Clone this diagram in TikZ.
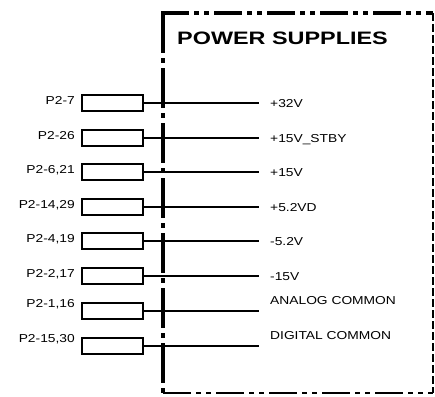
\documentclass[tikz,border=0pt]{standalone}
\usepackage{fontspec}
\setmainfont{Liberation Sans}
\newfontfamily\psfont[FakeStretch=1.2]{Liberation Sans}
\newfontfamily\psbigfont[FakeStretch=1.3]{Liberation Sans}
\usetikzlibrary{positioning}
\tikzset{
  pinbox/.style={draw, line width=2.6pt, minimum width=61pt, minimum height=16pt, inner sep=0pt},
  pinlabel/.style={font=\psfont\fontsize{11.5}{13}\selectfont, inner sep=0pt},
  wire/.style={line width=2.1pt},
}

\begin{document}
\begin{tikzpicture}[x=1pt,y=-1pt]
      \useasboundingbox (0,0) rectangle (435,396);

      % outline of the supply block
      \coordinate (tl) at (163,13);
      \coordinate (tr) at (433,13);
      \coordinate (bl) at (163,393);
      \coordinate (br) at (433,393);
      \draw[line width=3.8pt, dash pattern=on 28pt off 5pt on 5pt off 5pt on 5pt off 5pt] ([xshift=-1.9pt]tl) -- (tr);
      \draw[line width=3.8pt, dash pattern=on 40pt off 5pt on 5pt off 5pt] (tl) -- ([yshift=-3pt]bl);
      \draw[line width=1.2pt, dash pattern=on 8pt off 3pt] (tr) -- (br);
      \draw[line width=2pt, dash pattern=on 28pt off 5pt on 5pt off 5pt on 5pt off 5pt] (bl) -- (br);

      \node[anchor=base west, inner sep=0pt, font=\psbigfont\bfseries\fontsize{18}{20}\selectfont] (title) at (177,45) {POWER SUPPLIES};

      % connector pins
      \node[pinbox] (r1) at (112.5,103) {};
      \node[pinbox] (r2) at (112.5,138) {};
      \node[pinbox] (r3) at (112.5,172) {};
      \node[pinbox] (r4) at (112.5,207) {};
      \node[pinbox] (r5) at (112.5,241) {};
      \node[pinbox] (r6) at (112.5,276) {};
      \node[pinbox] (r7) at (112.5,311) {};
      \node[pinbox] (r8) at (112.5,346) {};

      \node[pinlabel, anchor=base east] (p1) at (75,104) {P2-7};
      \node[pinlabel, anchor=base east] (p2) at (75,139) {P2-26};
      \node[pinlabel, anchor=base east] (p3) at (75,173) {P2-6,21};
      \node[pinlabel, anchor=base east] (p4) at (75,208) {P2-14,29};
      \node[pinlabel, anchor=base east] (p5) at (75,242) {P2-4,19};
      \node[pinlabel, anchor=base east] (p6) at (75,277) {P2-2,17};
      \node[pinlabel, anchor=base east] (p7) at (75,307) {P2-1,16};
      \node[pinlabel, anchor=base east] (p8) at (75,342) {P2-15,30};

      % wire ends
      \coordinate (e1) at (259,103);
      \coordinate (e2) at (259,138);
      \coordinate (e3) at (259,172);
      \coordinate (e4) at (259,207);
      \coordinate (e5) at (259,241);
      \coordinate (e6) at (259,276);
      \coordinate (e7) at (259,311);
      \coordinate (e8) at (259,346);

      \draw[wire] (r1) -- (e1);
      \draw[wire] (r2) -- (e2);
      \draw[wire] (r3) -- (e3);
      \draw[wire] (r4) -- (e4);
      \draw[wire] (r5) -- (e5);
      \draw[wire] (r6) -- (e6);
      \draw[wire] (r7) -- (e7);
      \draw[wire] (r8) -- (e8);

      \node[pinlabel, anchor=base west] (s1) at (270,107) {+32V};
      \node[pinlabel, anchor=base west] (s2) at (270,142) {+15V\_STBY};
      \node[pinlabel, anchor=base west] (s3) at (270,176) {+15V};
      \node[pinlabel, anchor=base west] (s4) at (270,211) {+5.2VD};
      \node[pinlabel, anchor=base west] (s5) at (270,245) {-5.2V};
      \node[pinlabel, anchor=base west] (s6) at (270,280) {-15V};
      \node[pinlabel, anchor=base west] (s7) at (270,304) {ANALOG COMMON};
      \node[pinlabel, anchor=base west] (s8) at (270,339) {DIGITAL COMMON};
    \end{tikzpicture}
\end{document}
